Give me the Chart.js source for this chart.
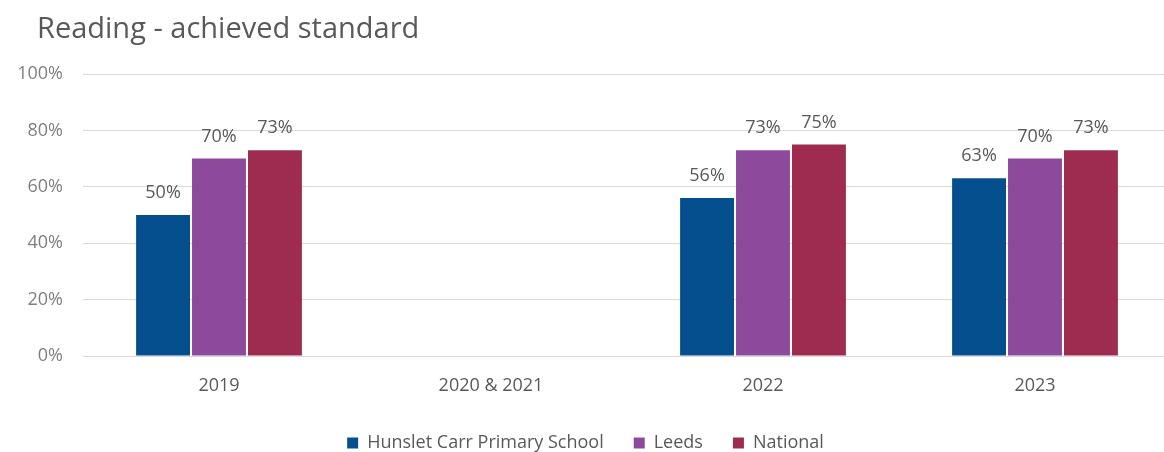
<!DOCTYPE html>
<html lang="en">
<head>
  <meta charset="UTF-8" />
  <title>Reading - achieved standard</title>
  <script src="https://cdn.jsdelivr.net/npm/chart.js"></script>
  <style>
    html, body {
      margin: 0;
      padding: 0;
      background: #ffffff;
    }
    .wrap {
      width: 1164px;
      height: 452px;
      overflow: hidden;
      position: relative;
    }
    canvas {
      display: block;
    }
  </style>
</head>
<body>
  <div class="wrap">
    <canvas id="readingChart" width="1175" height="462"></canvas>
  </div>

  <script>
    const title = 'Reading - achieved standard';
    const years = ['2019', '2020 & 2021', '2022', '2023'];
    const school = [50, null, 56, 63];
    const leeds = [70, null, 73, 70];
    const national = [73, null, 75, 73];
    const yTicks = [0, 20, 40, 60, 80, 100];

    const FONT = "'Open Sans', sans-serif";
    const GREY = '#595959';

    // title drawn at the top-left corner
    const titlePlugin = {
      id: 'titleText',
      afterDraw(chart) {
        const ctx = chart.ctx;
        ctx.save();
        ctx.font = '29px ' + FONT;
        ctx.fillStyle = GREY;
        ctx.textAlign = 'left';
        ctx.textBaseline = 'alphabetic';
        ctx.fillText(title, 37, 38);
        ctx.restore();
      }
    };

    // value labels above each bar
    const valueLabels = {
      id: 'valueLabels',
      afterDatasetsDraw(chart) {
        const ctx = chart.ctx;
        ctx.save();
        ctx.font = '18px ' + FONT;
        ctx.fillStyle = GREY;
        ctx.textAlign = 'center';
        ctx.textBaseline = 'middle';
        chart.data.datasets.forEach((ds, i) => {
          chart.getDatasetMeta(i).data.forEach((bar, j) => {
            const v = ds.data[j];
            if (v == null) return;
            ctx.fillText(v + '%', bar.x, bar.y - 22);
          });
        });
        ctx.restore();
      }
    };

    const ctx = document.getElementById('readingChart').getContext('2d');
    new Chart(ctx, {
      type: 'bar',
      data: {
        labels: years,
        datasets: [
          { label: 'Hunslet Carr Primary School', data: school, backgroundColor: '#064f8e' },
          { label: 'Leeds', data: leeds, backgroundColor: '#8d4a9c' },
          { label: 'National', data: national, backgroundColor: '#9e2c50' }
        ]
      },
      options: {
        responsive: false,
        animation: false,
        categoryPercentage: 0.617,
        barPercentage: 0.964,
        layout: { padding: { top: 74, right: 4, left: 0, bottom: 0 } },
        plugins: {
          legend: {
            position: 'bottom',
            labels: {
              boxWidth: 11,
              boxHeight: 11,
              padding: 30,
              color: GREY,
              font: { family: FONT, size: 18 }
            }
          },
          tooltip: { enabled: false }
        },
        scales: {
          x: {
            grid: { display: false, drawTicks: false },
            border: { color: '#d9d9d9' },
            ticks: {
              color: GREY,
              padding: 19,
              font: { family: FONT, size: 18 }
            },
            afterFit(scale) { scale.height = 48; }
          },
          y: {
            min: 0,
            max: 100,
            afterBuildTicks(scale) {
              scale.ticks = yTicks.map(v => ({ value: v }));
            },
            grid: { color: '#d9d9d9', drawTicks: false },
            border: { display: false },
            ticks: {
              color: '#7f7f7f',
              padding: 20,
              font: { family: FONT, size: 18 },
              callback: v => v + '%'
            },
            afterFit(scale) { scale.width = 83; }
          }
        }
      },
      plugins: [titlePlugin, valueLabels]
    });
  </script>
</body>
</html>
